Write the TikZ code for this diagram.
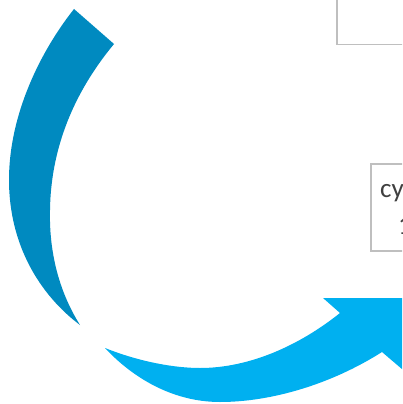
\documentclass[tikz,border=0pt]{standalone}
\usepackage{fontspec}
\setmainfont{Carlito}
\definecolor{darkblue}{HTML}{008AC0}
\definecolor{lightblue}{HTML}{00B0F0}
\definecolor{boxgray}{HTML}{BFBFBF}
\definecolor{txtgray}{HTML}{404040}
\begin{document}
\begin{tikzpicture}[x=1pt,y=-1pt,
  boxst/.style={draw=boxgray,line width=1.5pt,fill=white,inner sep=0},
  lbl/.style={text=txtgray,font=\fontsize{27}{32}\selectfont,inner sep=0,anchor=base west}]
\useasboundingbox (0,0) rectangle (402,404);
\clip (0,0) rectangle (402,404);
% boxes
\node (topbox) [boxst, anchor=north west, minimum width=84pt, minimum height=54pt] at (336,-10) {};
\node (midbox) [boxst, anchor=north west, minimum width=50pt, minimum height=87pt] at (370,163) {};
\node[lbl] (t1) at (380,197) {cy};
\node[lbl] (t2) at (398,234) {1};
% dark blue arc
\fill[darkblue] (74,9) .. controls (40,52) and (9,115) .. (9,180)
  .. controls (9,245) and (40,295) .. (80,325)
  .. controls (58,290) and (49,250) .. (50,210)
  .. controls (51,140) and (80,85) .. (114,44) -- cycle;
% light blue arrow
\fill[lightblue] (105,348) .. controls (140,362) and (175,368) .. (200,368)
  .. controls (250,368) and (300,345) .. (340,313)
  -- (323,298) -- (430,298) -- (430,393) -- (382,352)
  .. controls (330,385) and (270,402) .. (220,402)
  .. controls (170,402) and (130,375) .. (105,348) -- cycle;
\end{tikzpicture}
\end{document}
